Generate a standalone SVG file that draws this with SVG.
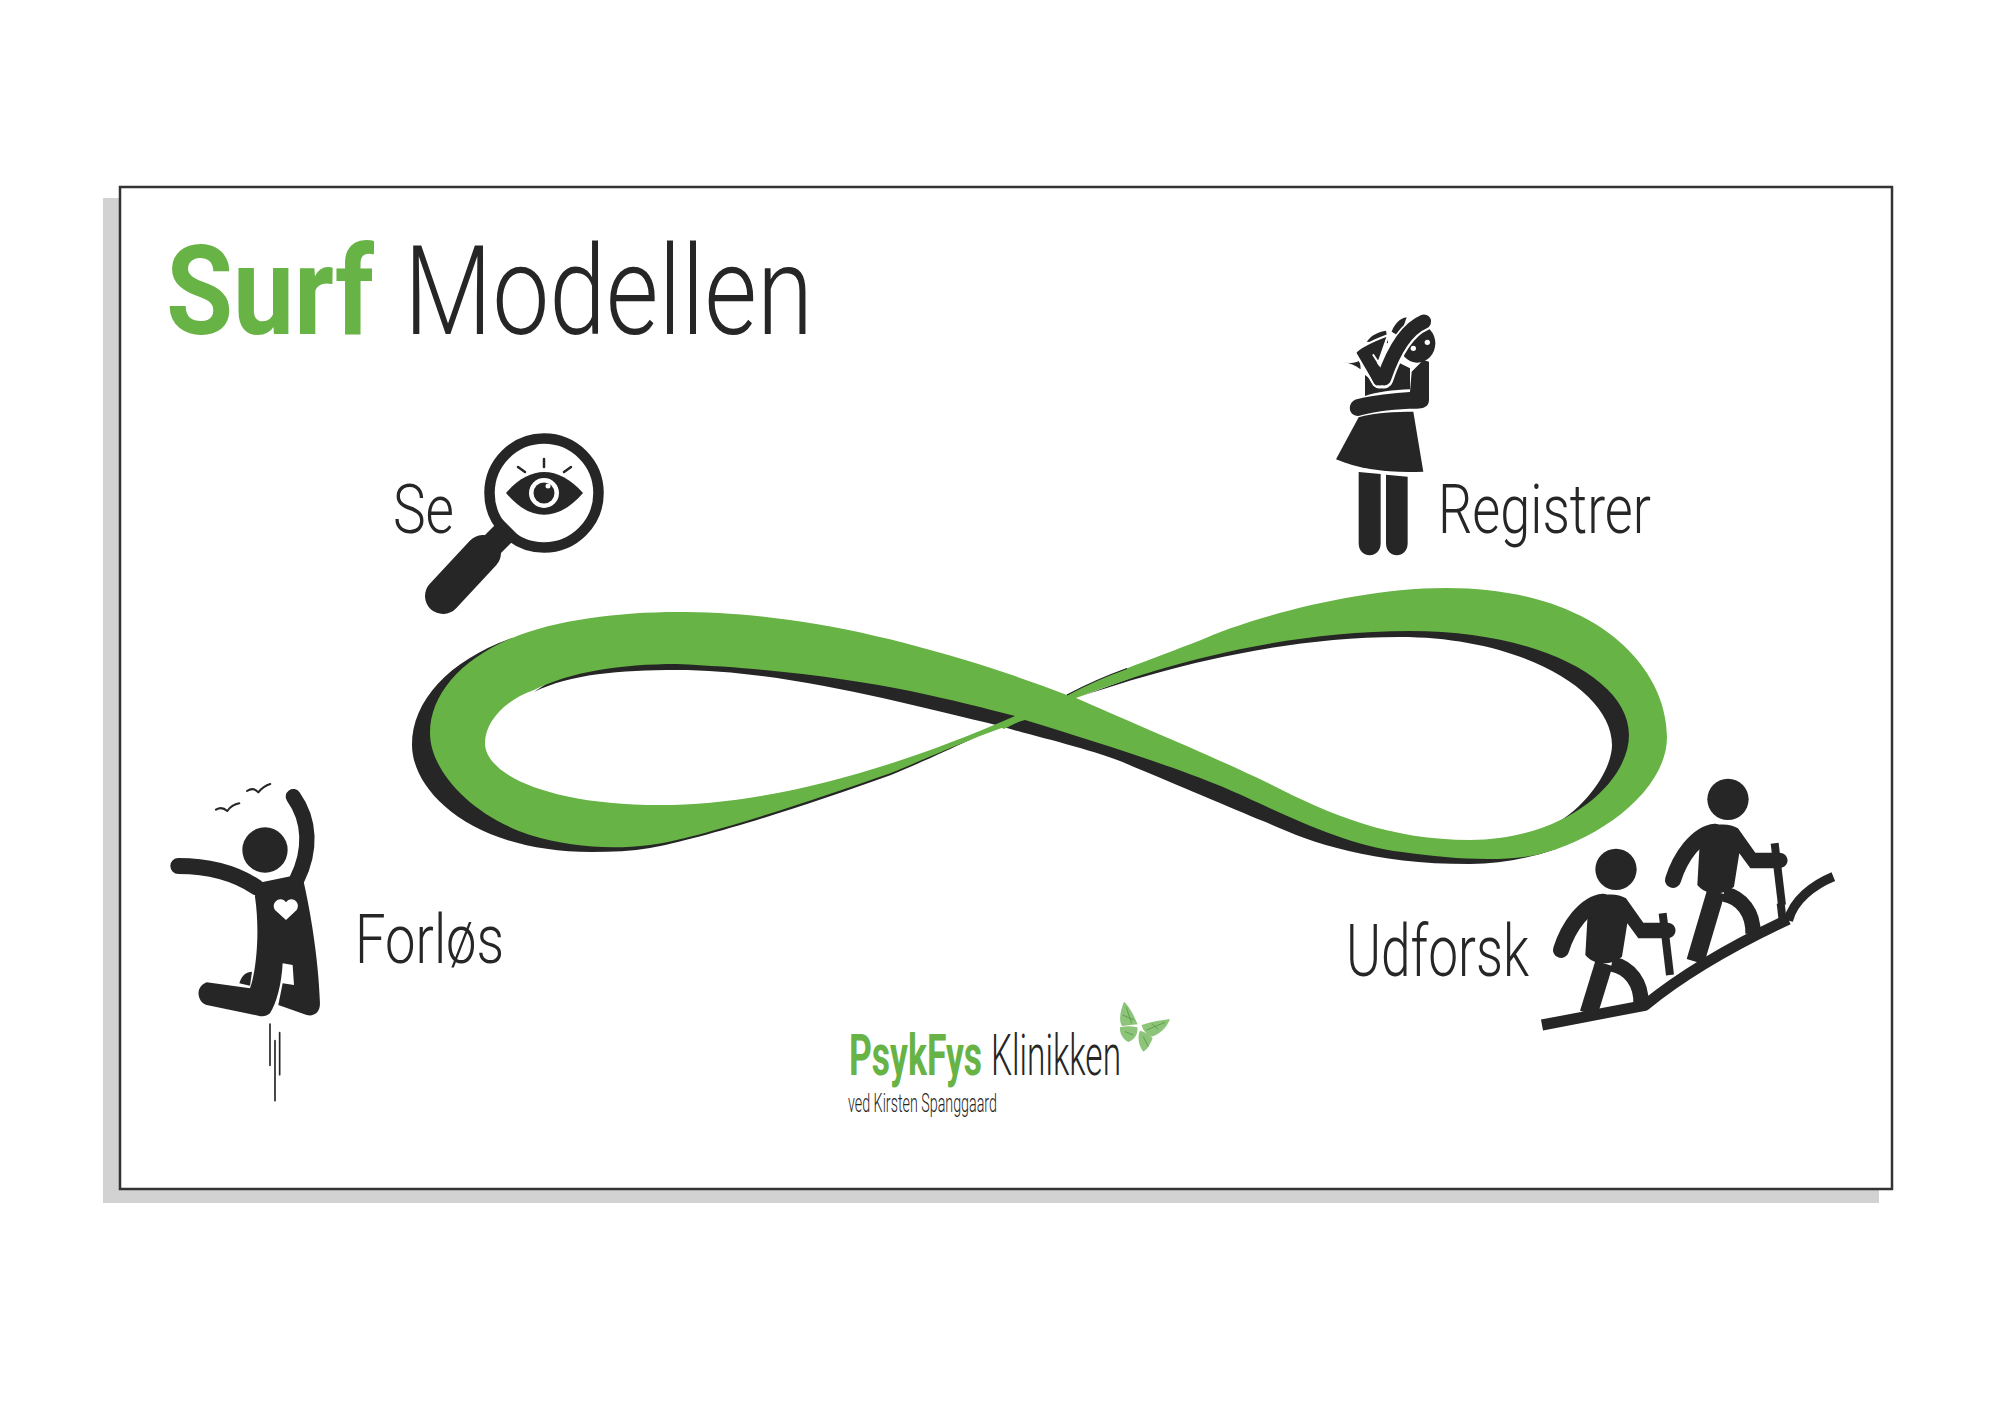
<svg xmlns="http://www.w3.org/2000/svg" xmlns:xlink="http://www.w3.org/1999/xlink" width="2000" height="1414" viewBox="0 0 2000 1414">
<style>
.k{fill:#262626}
.g{fill:#67b345}
.t{font-family:Roboto,"Liberation Sans",sans-serif;font-weight:300;fill:#262626}
.l{fill:none;stroke:#262626;stroke-linecap:round;stroke-linejoin:round}
.lb{fill:none;stroke:#262626;stroke-linejoin:round}
.w{fill:none;stroke:#fff;stroke-linecap:round;stroke-linejoin:round}
</style>
<defs>
<g id="hiker">
<circle cx="258" cy="328" r="62" class="k"/>
<path class="l" stroke-width="48" d="M93 570C115 500 165 430 220 425"/>
<path class="k" d="M175 428C210 398 260 398 288 415L340 488H412C445 490 445 532 412 535H325L292 490L276 590C245 615 195 620 166 585Z"/>
<path class="lb" stroke-width="46" d="M245 612C300 622 335 670 333 732"/>
<path class="lb" stroke-width="24" d="M398 460L420 645"/>
</g>
</defs>
<rect x="103" y="198" width="1776" height="1005" fill="#d2d2d2"/>
<rect x="120" y="187" width="1772" height="1002" fill="#fff" stroke="#333" stroke-width="2.5"/>
<g id="title">
<text x="166" y="334" font-size="125" font-weight="700" textLength="208" lengthAdjust="spacingAndGlyphs" style="font-family:Roboto,'Liberation Sans',sans-serif;fill:#67b345">Surf</text>
<text class="t" x="404" y="334" font-size="125" font-weight="400" textLength="409" lengthAdjust="spacingAndGlyphs">Modellen</text>
</g>
<g id="infinity">
<path class="k" d="M512 638C450 660 412 700 412 745C412 790 470 852 592 852C612 852 632 851 650 848C700 839 800 808 891 775C930 759 985 733 1016 718L891 771L700 825L530 810L455 745L500 660Z"/>
<path class="k" d="M534 692C570 674 620 670 677 670C780 670 900 702 1000 726C1040 738 1100 751 1134 767C1190 790 1240 812 1268 823C1310 842 1370 864 1470 864C1500 864 1530 858 1556 849L1536 845L1402 842L1268 795L1100 735L1000 710L800 665L677 655L570 668Z"/>
<path class="k" d="M1076 698C1130 680 1260 637 1400 637C1520 637 1612 690 1612 745C1612 770 1585 810 1549 827L1600 815L1645 740L1610 650L1450 612L1300 625L1180 660Z"/>
<path class="g" fill-rule="evenodd" d="M1067 695C990 665 880 632 790 620C750 614 710 612 677 612C620 612 555 620 512 638C460 660 430 695 430 733C430 770 470 815 530 835C570 847 610 850 650 845C695 839 800 805 891 773C930 757 985 732 1025 720C1090 740 1170 765 1223 787C1270 807 1340 845 1402 852C1450 859 1500 862 1536 855C1600 840 1667 790 1667 737C1667 670 1600 588 1446 588C1350 588 1240 622 1201 640C1150 660 1100 677 1067 695Z
M1015 716C940 697 850 672 677 664C620 664 570 672 534 690C505 700 485 722 485 743C485 775 550 805 660 805C760 805 880 775 1015 716Z
M1076 698C1130 677 1260 631 1410 631C1540 631 1629 680 1629 735C1629 780 1570 839 1470 840C1390 840 1330 815 1268 783C1210 755 1130 722 1076 698Z"/>
<path class="g" d="M998 726L1018 716L1026 718L1004 729Z"/>
<path d="M1067 695Q1095 680 1127 668.5" fill="none" stroke="#262626" stroke-width="1.2"/>
</g>
<g id="se">
<text class="t" x="393" y="533" font-size="68" textLength="61" lengthAdjust="spacingAndGlyphs">Se</text>
<circle cx="544" cy="493" r="54.5" fill="#fff" stroke="#262626" stroke-width="10.5"/>
<path class="k" d="M506 493C530 465 558 465 583 493C558 522 530 522 506 493Z"/>
<circle cx="544" cy="493" r="15" fill="#fff"/>
<circle cx="544" cy="493" r="10.5" class="k"/>
<circle cx="548" cy="486" r="2.5" fill="#fff"/>
<path class="l" stroke-width="2.5" d="M544 459V467M518 467L525 472M571 467L564 472"/>
<path class="lb" stroke-width="24" d="M484 553L510 527"/>
<path class="l" stroke-width="36" d="M443 596L483 553"/>
</g>
<g id="registrer">
<text class="t" x="1438" y="533" font-size="68" textLength="213" lengthAdjust="spacingAndGlyphs">Registrer</text>
<g transform="translate(1310 300) scale(.3333)">
<path class="k" d="M100 185C120 190 135 195 152 208L150 180C135 192 115 190 100 185Z"/>
<path class="k" d="M170 125C185 105 205 95 228 92L235 130ZM245 95C255 70 270 55 290 52L270 110Z"/>
<ellipse cx="322" cy="130" rx="54" ry="58" class="k"/>
<circle cx="310" cy="145" r="8" fill="#fff"/><circle cx="352" cy="127" r="8" fill="#fff"/>
<path class="k" d="M165 225L215 262L270 190L300 205V268C250 270 200 276 165 288Z"/>
<path class="k" d="M305 215L340 180L357 185V300C357 320 340 326 320 326C260 326 200 332 145 348C112 348 112 305 140 298C190 285 250 280 300 276Z"/>
<path fill="#262626" stroke="#fff" stroke-width="7" stroke-linejoin="round" d="M135 158C150 140 190 122 235 105L205 190L232 245C225 262 205 268 192 255Z"/>
<path class="w" stroke-width="55" d="M345 64C295 85 255 140 222 238"/>
<path class="l" stroke-width="43" d="M342 65C295 85 255 140 222 235"/>
<path fill="#262626" d="M150 165L200 190L240 235C230 258 205 262 192 250Z"/>
<path class="w" stroke-width="6" d="M190 165L205 188L250 105"/>
<path class="k" d="M146 352C190 338 260 335 310 335L340 515C250 520 150 510 78 478Z"/>
<path class="k" d="M146 516L212 522V730C212 778 146 778 146 730ZM228 524L293 530V730C293 778 228 778 228 730Z"/>
</g>
</g>
<g id="forlos">
<text class="t" x="355" y="963" font-size="68" textLength="149" lengthAdjust="spacingAndGlyphs">Forløs</text>
<g transform="translate(150 770) scale(.3333)">
<circle cx="345" cy="240" r="68" class="k"/>
<path class="l" stroke-width="48" d="M85 288C170 288 250 305 320 352"/>
<path class="l" stroke-width="46" d="M430 80C480 150 485 240 440 330"/>
<path class="k" d="M320 340L440 315L462 340C480 420 505 560 510 700C510 730 490 740 470 735L385 705L398 640L432 645L428 585L398 580C395 640 380 700 360 730C350 740 335 740 325 737L170 705C140 695 135 650 170 637L300 655C320 600 330 480 315 380Z"/>
<path class="k" d="M268 640C275 615 290 605 306 605L300 647Z"/>
<path fill="#fff" d="M408 450L375 420C360 395 395 375 408 397C422 375 455 395 440 420Z"/>
<path class="l" stroke-width="5" d="M360 762V886M389 788V914M375 812V992"/>
<path class="l" stroke-width="6" d="M198 119Q215 108 232 123Q245 104 268 100M291 63Q310 50 325 67Q340 48 361 42"/>
</g>
</g>
<g id="udforsk">
<text class="t" x="1346" y="976" font-size="72" textLength="183" lengthAdjust="spacingAndGlyphs">Udforsk</text>
<g transform="translate(1530 760) scale(.3333)">
<path class="lb" stroke-width="33" d="M36 795L345 736C450 650 600 560 775 478"/>
<path class="lb" stroke-width="28" d="M775 482C790 420 850 375 910 350"/>
<use xlink:href="#hiker" href="#hiker"/>
<path class="lb" stroke-width="54" d="M222 610L176 760"/>
<use xlink:href="#hiker" href="#hiker" transform="translate(336 -210)"/>
<path class="lb" stroke-width="54" d="M558 395L496 605"/>
<path class="lb" stroke-width="24" d="M752 430L758 480"/>
</g>
</g>
<g id="logo">
<text x="849" y="1075" font-size="58" font-weight="700" textLength="133" lengthAdjust="spacingAndGlyphs" style="font-family:Roboto,'Liberation Sans',sans-serif;fill:#67b345">PsykFys</text>
<text class="t" x="991" y="1075" font-size="58" textLength="130" lengthAdjust="spacingAndGlyphs">Klinikken</text>
<text class="t" x="848" y="1112" font-size="25" textLength="149" lengthAdjust="spacingAndGlyphs">ved Kirsten Spanggaard</text>
<g transform="translate(830 990) scale(.3333)" fill="#8cc47a">
<path d="M923 103C905 60 890 40 882 35C872 60 865 90 876 108Z"/>
<path d="M870 112C885 108 905 108 922 112C925 130 915 150 895 156C880 150 868 130 870 112Z"/>
<path d="M935 105C965 95 995 90 1020 87C1010 115 985 135 965 140C950 135 938 120 935 105Z"/>
<path d="M930 122C945 125 960 135 968 145C960 165 950 180 940 185C925 165 922 140 930 122Z"/>
<path d="M888 50L905 100M878 75L912 90M1005 97L950 120M985 118L965 100M940 140L955 170M885 125L910 135" fill="none" stroke="#5f9f4d" stroke-width="3"/>
</g>
</g>
</svg>
